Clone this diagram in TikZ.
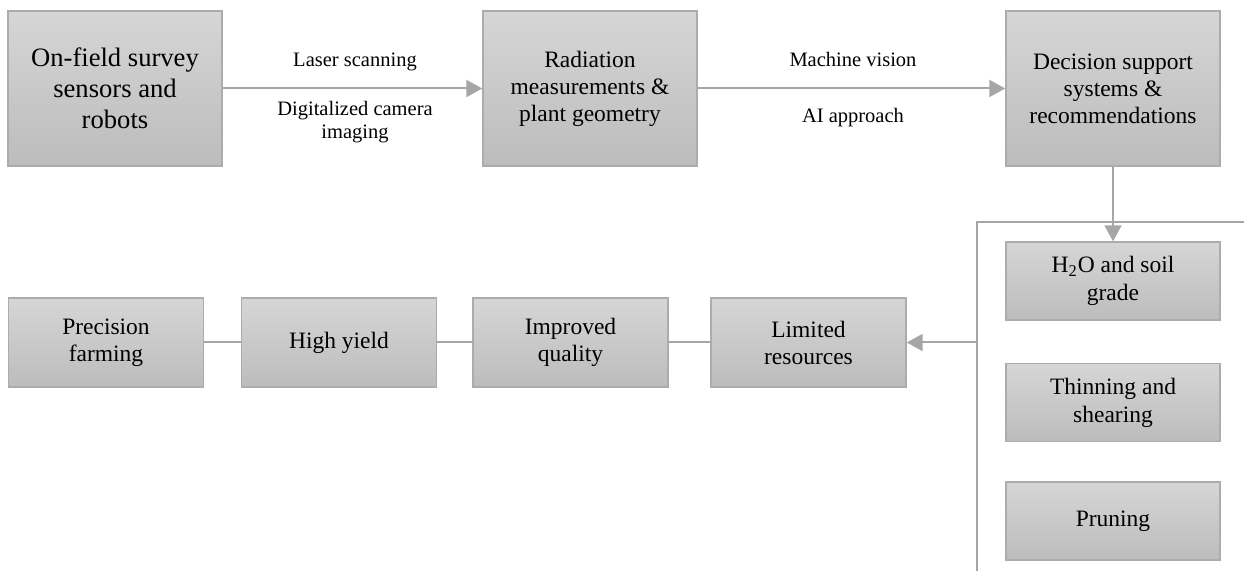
\documentclass[tikz,border=0pt]{standalone}
\usepackage{fontspec}
\setmainfont{Liberation Serif}
\usetikzlibrary{arrows.meta}
\definecolor{boxtop}{HTML}{D6D6D6}
\definecolor{boxbot}{HTML}{BCBCBC}
\definecolor{boxline}{HTML}{ACACAC}
\definecolor{linkgray}{HTML}{A6A6A6}

\begin{document}
\begin{tikzpicture}[
                    x=0.5pt, y=-0.5pt,
                    >={Triangle[length=8pt,width=8.5pt]},
                    stage/.style={rectangle, draw=boxline, line width=0.7pt, top color=boxtop, bottom color=boxbot, align=center, inner sep=0pt},
                    bigstage/.style={stage, minimum width=107pt, minimum height=77.5pt, font=\fontsize{11.75}{13.5}\selectfont},
                    lowstage/.style={stage, minimum width=97.5pt, minimum height=44.5pt, font=\fontsize{11.75}{13.5}\selectfont},
                    sidestage/.style={stage, minimum width=107pt, minimum height=39pt, font=\fontsize{11.75}{14}\selectfont},
                    linklabel/.style={align=center, inner sep=0pt, font=\fontsize{10.25}{11.75}\selectfont},
                    link/.style={draw=linkgray, line width=1pt, fill=none}
            ]
                \useasboundingbox (0,0) rectangle (1244,571);
                % top row
                \node [bigstage, font=\fontsize{13.3}{15.5}\selectfont] (survey) at (115,88.5) {On-field survey\\sensors and\\robots};
                \node [bigstage] (radiation) at (590,88.5) {Radiation\\measurements \&\\plant geometry};
                \node [bigstage] (decision) at (1113,88.5) {Decision support\\systems \&\\recommendations};
                \node [linklabel] (laser) at (355,62) {Laser scanning};
                \node [linklabel] (camera) at (355,122) {Digitalized camera\\imaging};
                \node [linklabel] (vision) at (853,59) {Machine vision};
                \node [linklabel] (ai) at (853,118) {AI approach};
                % right column
                \node [sidestage] (water) at (1113,281) {H\textsubscript{2}O and soil\\grade};
                \node [sidestage] (thinning) at (1113,402.5) {Thinning and\\shearing};
                \node [sidestage] (pruning) at (1113,521) {Pruning};
                % bottom row
                \node [lowstage] (limited) at (808.5,342.5) {Limited\\resources};
                \node [lowstage] (quality) at (570.5,342.5) {Improved\\quality};
                \node [lowstage] (yield) at (339,342.5) {High yield};
                \node [lowstage] (precision) at (106,342.5) {Precision\\farming};
                % bracket
                \coordinate (brtop) at (977,222);
                \coordinate (brright) at (1244,222);
                \coordinate (brbottom) at (977,571);
                \coordinate (brmid) at (977,342.5);
                % connectors
                \draw [link, ->] (survey) -- (radiation);
                \draw [link, ->] (radiation) -- (decision);
                \draw [link, ->] (decision) -- (water);
                \draw [link] (brright) -- (brtop) -- (brbottom);
                \draw [link, ->] (brmid) -- (limited);
                \draw [link] (limited) -- (quality);
                \draw [link] (quality) -- (yield);
                \draw [link] (yield) -- (precision);
            \end{tikzpicture}
\end{document}
